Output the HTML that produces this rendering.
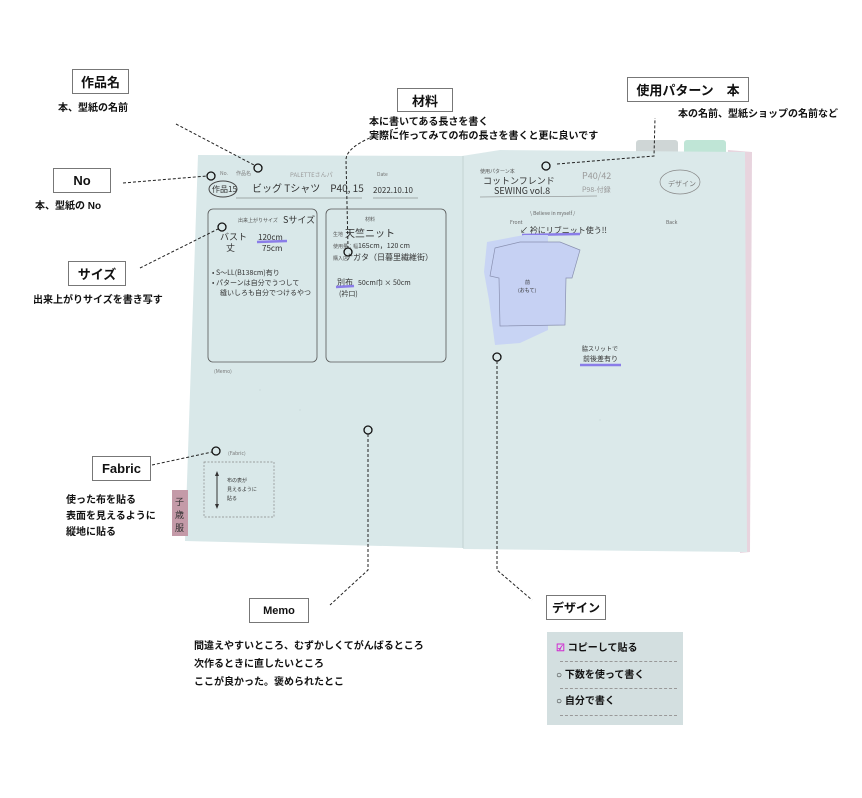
<!DOCTYPE html>
<html><head><meta charset="utf-8"><style>
body{margin:0;width:862px;height:798px;background:#fff;position:relative;overflow:hidden;font-family:"Liberation Sans","Noto Sans CJK JP",sans-serif;}
.lb{position:absolute;border:1.5px solid #777;background:#fff;font-weight:bold;font-size:13px;display:flex;align-items:center;justify-content:center;box-sizing:border-box;color:#111}
.t{position:absolute;font-size:10px;font-weight:bold;color:#111;line-height:16px;white-space:nowrap}
svg{position:absolute;left:0;top:0}
</style></head><body>
<svg width="862" height="798" viewBox="0 0 862 798" font-family="Noto Sans CJK JP, sans-serif">
<rect x="636" y="140" width="42" height="20" rx="3" fill="#cfd6d6"/>
<rect x="684" y="140" width="42" height="20" rx="3" fill="#bfe5d6"/>
<polygon points="728,150 752,152 750,552 740,553" fill="#e8d4de"/>
<polygon points="198,155 463,156 463,548 185,541" fill="#d9e8e9"/>
<polygon points="462,156 500,150 745,152 747,552 463,549" fill="#dbe9ea"/>
<line x1="463" y1="156" x2="463" y2="548" stroke="#c3d2d3"/>
<rect x="172" y="490" width="16" height="46" fill="#c49aa8"/>
<text x="175" y="505" font-size="9" fill="#333">子</text><text x="175" y="518" font-size="9" fill="#333">歳</text><text x="175" y="531" font-size="9" fill="#333">服</text>
<!-- left page -->
<text x="220" y="175" font-size="5" fill="#777">No.</text><text x="236" y="175" font-size="5" fill="#777">作品名</text>
<ellipse cx="223" cy="189" rx="14" ry="8" fill="none" stroke="#444"/>
<text x="212" y="192" font-size="8" fill="#333">作品15</text>
<text x="252" y="192" font-size="10" fill="#333">ビッグ Tシャツ　P40, 15</text>
<text x="377" y="176" font-size="5" fill="#777">Date</text>
<text x="373" y="193" font-size="8" fill="#333">2022.10.10</text>
<line x1="236" y1="198" x2="362" y2="198" stroke="#666" stroke-width="0.6"/>
<line x1="373" y1="198" x2="418" y2="198" stroke="#666" stroke-width="0.6"/>
<text x="290" y="177" font-size="6" fill="#999">PALETTEさんパ</text>
<rect x="208" y="209" width="109" height="153" rx="5" fill="none" stroke="#555" stroke-width="0.8"/>
<rect x="315" y="209" width="0" height="0"/>
<rect x="326" y="209" width="120" height="153" rx="5" fill="none" stroke="#555" stroke-width="0.8"/>
<text x="238" y="222" font-size="5" fill="#555">出来上がりサイズ</text><text x="283" y="223" font-size="9" fill="#333">Sサイズ</text>
<text x="220" y="240" font-size="9" fill="#333">バスト</text><text x="226" y="251" font-size="9" fill="#333">丈</text>
<text x="258" y="240" font-size="8" fill="#333">120cm</text><text x="262" y="251" font-size="8" fill="#333">75cm</text>
<line x1="257" y1="242" x2="287" y2="241" stroke="#8a7de8" stroke-width="2.5"/>
<text x="212" y="275" font-size="7" fill="#333">• S～LL(B138cm)有り</text>
<text x="212" y="285" font-size="7" fill="#333">• パターンは自分でうつして</text>
<text x="220" y="295" font-size="7" fill="#333">縫いしろも自分でつけるやつ</text>
<text x="365" y="221" font-size="5" fill="#555">材料</text>
<text x="333" y="236" font-size="5" fill="#555">生地</text><text x="345" y="237" font-size="10" fill="#333">天竺ニット</text>
<text x="333" y="248" font-size="5" fill="#555">使用量：幅</text><text x="358" y="248" font-size="7" fill="#333">165cm，120 cm</text>
<text x="333" y="260" font-size="5" fill="#555">購入店</text><text x="345" y="260" font-size="8" fill="#333">ナガタ（日暮里繊維街）</text>
<text x="337" y="285" font-size="8" fill="#333">別布</text><text x="358" y="285" font-size="7" fill="#333">50cm巾 × 50cm</text>
<text x="339" y="296" font-size="7" fill="#333">(衿口)</text>
<line x1="336" y1="287" x2="354" y2="286" stroke="#8a7de8" stroke-width="2.5"/>
<text x="214" y="373" font-size="5" fill="#777">(Memo)</text>
<text x="228" y="455" font-size="5" fill="#777">(Fabric)</text>
<rect x="204" y="462" width="70" height="55" fill="none" stroke="#888" stroke-width="0.7" stroke-dasharray="2,1.5"/>
<line x1="217" y1="474" x2="217" y2="506" stroke="#333"/>
<polygon points="217,471 215,476 219,476" fill="#333"/><polygon points="217,509 215,504 219,504" fill="#333"/>
<text x="227" y="482" font-size="5" fill="#333">布の表が</text><text x="227" y="491" font-size="5" fill="#333">見えるように</text><text x="227" y="500" font-size="5" fill="#333">貼る</text>
<!-- right page -->
<text x="480" y="173" font-size="5" fill="#555">使用パターン本</text>
<text x="483" y="184" font-size="9" fill="#333">コットンフレンド</text>
<text x="494" y="194" font-size="9" fill="#333">SEWING vol.8</text>
<text x="582" y="179" font-size="9" fill="#999">P40/42</text><text x="582" y="192" font-size="7" fill="#999">P98-付録</text>
<line x1="480" y1="197" x2="597" y2="196" stroke="#777" stroke-width="0.6"/>
<ellipse cx="680" cy="182" rx="20" ry="12" fill="none" stroke="#888" stroke-width="0.7"/>
<text x="668" y="186" font-size="7" fill="#777">デザイン</text>
<text x="530" y="215" font-size="5" fill="#666">\ Believe in myself /</text>
<text x="510" y="224" font-size="5" fill="#666">Front</text><text x="666" y="224" font-size="5" fill="#666">Back</text>
<text x="520" y="233" font-size="8" fill="#333">↙ 衿にリブニット使う!!</text>
<line x1="522" y1="235" x2="580" y2="234" stroke="#8a7de8" stroke-width="2.5"/>
<path d="M487,242 L524,235 L548,235 L548,270 L548,330 L520,343 L495,345 L489,300 L484,272 Z" fill="#c8d4f4"/>
<path d="M495,248 L520,242 L560,242 L580,250 L572,278 L566,278 L565,325 L500,326 L499,278 L490,276 Z" fill="#c6d1f3" stroke="#8990b0" stroke-width="0.7"/>
<text x="525" y="284" font-size="5" fill="#333">前</text><text x="518" y="292" font-size="5" fill="#333">(おもて)</text>
<text x="582" y="351" font-size="6" fill="#333">脇スリットで</text>
<text x="583" y="361" font-size="7" fill="#333">前後差有り</text>
<line x1="580" y1="365" x2="621" y2="365" stroke="#8a7de8" stroke-width="2.5"/>
<!-- dotted grid hint -->
<g fill="#b9c9ca">
<circle cx="260" cy="390" r="0.5"/><circle cx="300" cy="410" r="0.5"/><circle cx="600" cy="420" r="0.5"/>
</g>
<!-- marker circles -->
<g fill="none" stroke="#111" stroke-width="1.3">
<circle cx="258" cy="168" r="4"/><circle cx="211" cy="176" r="4"/><circle cx="222" cy="227" r="4"/>
<circle cx="348" cy="252" r="4"/><circle cx="546" cy="166" r="4"/><circle cx="497" cy="357" r="4"/>
<circle cx="368" cy="430" r="4"/><circle cx="216" cy="451" r="4"/>
</g>
<!-- connectors -->
<g fill="none" stroke="#222" stroke-width="1" stroke-dasharray="3,2">
<path d="M176,124 L254,165"/>
<path d="M123,183 L207,176"/>
<path d="M140,268 L218,229"/>
<path d="M398,128 Q346,143 346,160 L348,248"/>
<path d="M557,164 L654,156 L655,118"/>
<path d="M497,361 L497,570 L532,600"/>
<path d="M368,434 L368,570 L330,605"/>
<path d="M152,465 L212,452"/>
</g>
</svg>
<div class="lb" style="left:72px;top:69px;width:57px;height:25px">作品名</div>
<div class="t" style="left:58px;top:101px">本、型紙の名前</div>
<div class="lb" style="left:53px;top:168px;width:58px;height:25px">No</div>
<div class="t" style="left:35px;top:199px">本、型紙の No</div>
<div class="lb" style="left:68px;top:261px;width:58px;height:25px">サイズ</div>
<div class="t" style="left:33px;top:293px">出来上がりサイズを書き写す</div>
<div class="lb" style="left:92px;top:456px;width:59px;height:25px">Fabric</div>
<div class="t" style="left:66px;top:493px">使った布を貼る<br>表面を見えるように<br>縦地に貼る</div>
<div class="lb" style="left:249px;top:598px;width:60px;height:25px;font-size:11px">Memo</div>
<div class="t" style="left:194px;top:638px;line-height:18px">間違えやすいところ、むずかしくてがんばるところ<br>次作るときに直したいところ<br>ここが良かった。褒められたとこ</div>
<div class="lb" style="left:397px;top:88px;width:56px;height:24px">材料</div>
<div class="t" style="left:369px;top:116px;line-height:14px">本に書いてある長さを書く<br>実際に作ってみての布の長さを書くと更に良いです</div>
<div class="lb" style="left:627px;top:77px;width:122px;height:25px">使用パターン　本</div>
<div class="t" style="left:678px;top:107px">本の名前、型紙ショップの名前など</div>
<div class="lb" style="left:546px;top:595px;width:60px;height:25px;font-size:12px">デザイン</div>
<div style="position:absolute;left:547px;top:632px;width:136px;height:93px;background:#d3dfe0"></div>
<div class="t" style="left:556px;top:641px"><span style="color:#d02ad0">☑</span> コピーして貼る</div>
<div class="t" style="left:556px;top:668px">○ 下数を使って書く</div>
<div class="t" style="left:556px;top:694px">○ 自分で書く</div>
<div style="position:absolute;left:560px;top:661px;width:117px;border-top:1px dashed #999"></div>
<div style="position:absolute;left:560px;top:688px;width:117px;border-top:1px dashed #999"></div>
<div style="position:absolute;left:560px;top:715px;width:117px;border-top:1px dashed #999"></div>
</body></html>
